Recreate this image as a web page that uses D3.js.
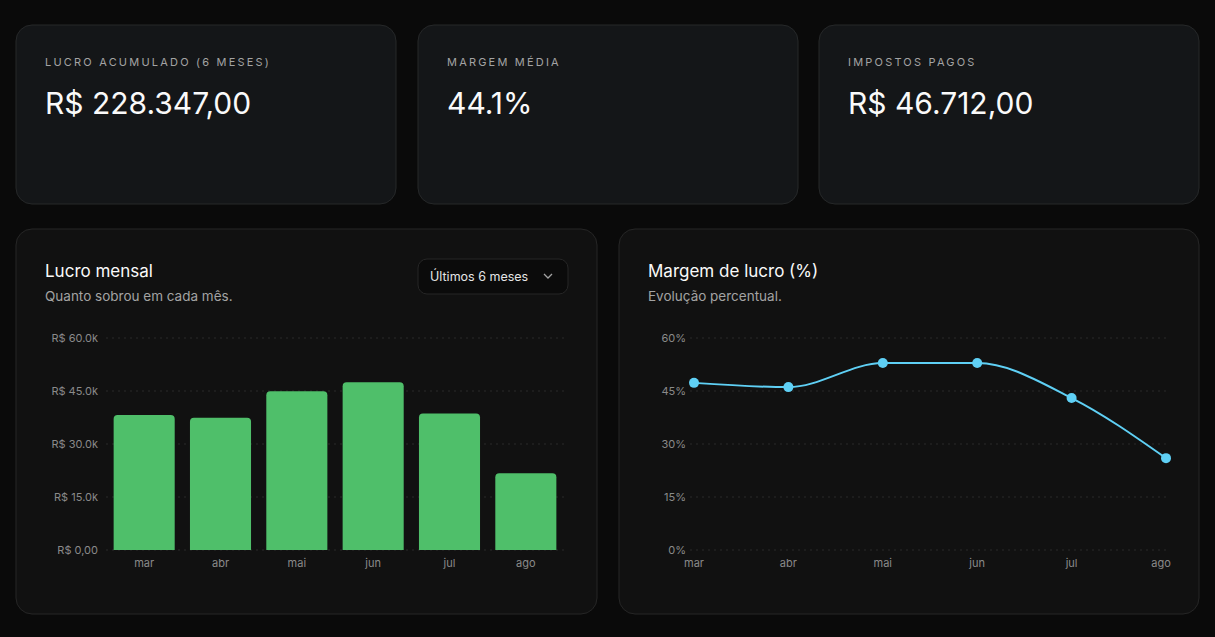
<!DOCTYPE html>
<html><head><meta charset="utf-8">
<script src="https://cdn.jsdelivr.net/npm/d3@7"></script>
<style>
body{margin:0;background:#0a0a0a;font-family:Inter,"Noto Sans",sans-serif;width:1215px;height:637px;overflow:hidden}
svg{display:block}
</style></head><body>
<svg id="c" width="1215" height="637"></svg>
<script>
// data
const months = ["mar","abr","mai","jun","jul","ago"];
const lucro = [38200, 37400, 44900, 47500, 38600, 21700];
const margem = [47.3, 46.1, 52.9, 52.9, 43.0, 26.0];
const lucroTicks = [0, 15000, 30000, 45000, 60000];
const margemTicks = [0, 15, 30, 45, 60];
const kpis = [
  {label: "LUCRO ACUMULADO (6 MESES)", value: "R$ 228.347,00"},
  {label: "MARGEM MÉDIA", value: "44.1%"},
  {label: "IMPOSTOS PAGOS", value: "R$ 46.712,00"}
];

const svg = d3.select("#c");

// kpi cards
const kx = [16, 418, 819];
kpis.forEach((k, i) => {
  const g = svg.append("g").attr("transform", `translate(${kx[i]},25)`);
  g.append("rect").attr("width", 380).attr("height", 179).attr("rx", 16)
    .attr("fill", "#141618").attr("stroke", "#262829");
  g.append("text").attr("x", 29).attr("y", 41).text(k.label)
    .attr("fill", "#a3a3a3").attr("font-size", 11).attr("letter-spacing", "2.2px");
  g.append("text").attr("x", 29).attr("y", 89).text(k.value)
    .attr("fill", "#fafafa").attr("font-size", 30);
});

// panels
function panel(x, w, title, sub) {
  const g = svg.append("g").attr("transform", `translate(${x},229)`);
  g.append("rect").attr("width", w).attr("height", 385).attr("rx", 16)
    .attr("fill", "#111111").attr("stroke", "#262626");
  g.append("text").attr("x", 29).attr("y", 48).text(title).attr("fill", "#fafafa").attr("font-size", 17);
  g.append("text").attr("x", 29).attr("y", 72).text(sub).attr("fill", "#a3a3a3").attr("font-size", 13.5);
  return g;
}
panel(16, 581, "Lucro mensal", "Quanto sobrou em cada mês.");
panel(619, 580, "Margem de lucro (%)", "Evolução percentual.");

// dropdown
const dd = svg.append("g").attr("transform", "translate(418,259)");
dd.append("rect").attr("width", 150).attr("height", 35).attr("rx", 9)
  .attr("fill", "#0b0b0b").attr("stroke", "#262626");
dd.append("text").attr("x", 12).attr("y", 22).text("Últimos 6 meses").attr("fill", "#e5e5e5").attr("font-size", 12.5);
dd.append("path").attr("d", "M126,15 l4,4 l4,-4").attr("fill", "none").attr("stroke", "#a3a3a3").attr("stroke-width", 1.3);

// bar chart
const fmtR = v => v === 0 ? "R$ 0,00" : "R$ " + (v / 1000).toFixed(1) + "k";
const xb = d3.scaleBand().domain(months).range([106, 564]).paddingInner(0.2).paddingOuter(0.1);
const yb = d3.scaleLinear().domain([0, 60000]).range([550, 338]);
const gb = svg.append("g");
gb.selectAll(".grid").data(lucroTicks).join("line")
  .attr("x1", 106).attr("x2", 564).attr("y1", d => yb(d)).attr("y2", d => yb(d))
  .attr("stroke", "#2a2a2a").attr("stroke-dasharray", "2,4");
gb.selectAll(".yl").data(lucroTicks).join("text")
  .attr("x", 98).attr("y", d => yb(d) + 4).attr("text-anchor", "end")
  .attr("fill", "#8a8a8a").attr("font-size", 11).text(fmtR);
gb.selectAll(".bar").data(lucro).join("path")
  .attr("fill", "#4fbf6a")
  .attr("d", (d, i) => {
    const x0 = xb(months[i]), w = xb.bandwidth(), y0 = yb(d), r = 4;
    return `M${x0},550 V${y0 + r} Q${x0},${y0} ${x0 + r},${y0} H${x0 + w - r} Q${x0 + w},${y0} ${x0 + w},${y0 + r} V550 Z`;
  });
gb.selectAll(".xl").data(months).join("text")
  .attr("x", d => xb(d) + xb.bandwidth() / 2).attr("y", 567).attr("text-anchor", "middle")
  .attr("fill", "#8a8a8a").attr("font-size", 11).text(d => d);

// line chart
const xl = d3.scalePoint().domain(months).range([694, 1166]);
const yl = d3.scaleLinear().domain([0, 60]).range([550, 338]);
const gl = svg.append("g");
gl.selectAll(".grid").data(margemTicks).join("line")
  .attr("x1", 690).attr("x2", 1166).attr("y1", d => yl(d)).attr("y2", d => yl(d))
  .attr("stroke", "#2a2a2a").attr("stroke-dasharray", "2,4");
gl.selectAll(".yl").data(margemTicks).join("text")
  .attr("x", 686).attr("y", d => yl(d) + 4).attr("text-anchor", "end")
  .attr("fill", "#8a8a8a").attr("font-size", 11).text(d => d + "%");
gl.selectAll(".xl").data(months).join("text")
  .attr("x", d => xl(d) - (d === "ago" ? 5 : 0)).attr("y", 567).attr("text-anchor", "middle")
  .attr("fill", "#8a8a8a").attr("font-size", 11).text(d => d);
const line = d3.line().x((d, i) => xl(months[i])).y(d => yl(d)).curve(d3.curveMonotoneX);
gl.append("path").datum(margem).attr("d", line).attr("fill", "none")
  .attr("stroke", "#5fd0f5").attr("stroke-width", 2);
gl.selectAll(".pt").data(margem).join("circle")
  .attr("cx", (d, i) => xl(months[i])).attr("cy", d => yl(d)).attr("r", 5)
  .attr("fill", "#5fd0f5");
</script>
</body></html>
